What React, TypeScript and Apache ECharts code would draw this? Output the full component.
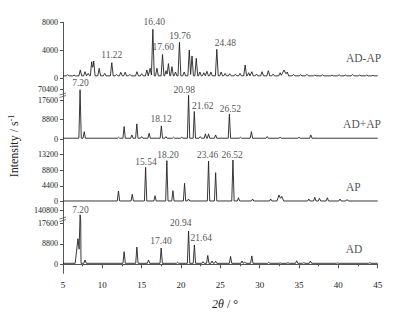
import React, { useEffect, useRef } from 'react';
import * as echarts from 'echarts';

// ---- data (2θ in degrees, intensity in counts/s) ----
const X_MIN = 5;
const X_MAX = 45;
const X_INTERVAL = 5;

const SAMPLES = ['AD-AP', 'AD+AP', 'AP', 'AD'];

// peaks: [2θ, intensity, half-width(optional)]
const AD_AP_BASE = 350;
const AD_AP_PEAKS = [
  [5.6, 520], [6.4, 460], [7.2, 1190], [7.8, 940], [8.2, 700], [8.65, 2370], [8.9, 2470],
  [9.6, 1430], [10.3, 700], [11.2, 2230], [11.8, 560], [12.35, 860], [12.9, 860], [13.5, 560],
  [14.4, 940], [15.0, 650], [15.66, 1190], [16.08, 1430], [16.42, 7000], [16.94, 1430],
  [17.65, 3400], [18.1, 1100], [18.4, 2100], [18.85, 1660], [19.3, 900], [19.8, 5140],
  [20.4, 900], [21.05, 4040], [21.4, 3190], [21.94, 2860], [22.4, 900], [22.9, 800],
  [23.3, 1000], [23.8, 900], [24.55, 4140], [25.1, 900], [25.6, 700], [26.2, 650], [26.9, 600],
  [27.5, 700], [28.15, 1900], [28.6, 800], [29.0, 940], [29.6, 600], [30.3, 940], [31.1, 1090],
  [31.7, 600], [32.6, 800], [33.1, 1190, 0.35], [33.5, 900], [34.3, 560], [35.2, 500],
  [36.0, 560], [37.0, 460], [38.0, 500], [39.2, 460], [40.1, 500], [40.9, 460], [41.8, 560],
  [42.7, 460], [43.6, 460], [44.4, 420],
];

const AD_PLUS_AP_BASE = 450;
const AD_PLUS_AP_PEAKS = [
  [7.17, 63800], [7.7, 3400], [12.05, 900], [12.77, 5700], [13.75, 1940], [14.38, 6900],
  [15.0, 1170], [15.95, 2700], [17.5, 6000], [18.08, 1170], [19.05, 900], [20.1, 900],
  [20.96, 19700], [21.69, 12450], [22.45, 1170], [23.1, 2400], [23.5, 2400], [24.4, 1940],
  [26.15, 11280], [27.55, 900], [28.95, 3430], [30.95, 1170], [32.6, 900], [35.0, 900],
  [36.5, 1940],
];

const AP_BASE = 200;
const AP_PEAKS = [
  [12.05, 2980], [13.8, 2060], [15.5, 9580], [16.7, 1670], [18.2, 11420], [18.97, 3060],
  [20.45, 5120], [20.96, 750], [23.5, 11330], [24.4, 8080], [26.6, 11610], [27.3, 1100],
  [29.1, 750], [31.4, 750], [32.45, 1870, 0.25], [32.8, 1500, 0.25], [36.25, 750], [37.0, 1220],
  [37.6, 950], [38.6, 1100], [40.2, 750], [41.1, 600],
];

const AD_BASE = 430;
const AD_PEAKS = [
  [6.9, 11000, 0.35], [7.17, 80000, 0.12], [7.8, 1850], [12.77, 5400], [14.39, 7400],
  [15.87, 1850], [17.48, 7000], [19.56, 860], [20.96, 14290], [21.7, 8280], [22.8, 1120],
  [23.4, 3800], [23.95, 1400], [24.4, 1290], [26.3, 3400], [27.75, 1420], [28.1, 1000],
  [29.0, 3600], [31.15, 860], [32.6, 560], [33.6, 700], [34.7, 1550], [35.6, 700],
  [36.45, 1420], [39.9, 600], [44.0, 700],
];

// y tick labels per panel
const Y_TICKS_1 = [0, 4000, 8000];
const Y_TICKS_2 = [0, 8800, 17600, 70400];
const Y_TICKS_3 = [0, 4400, 8800, 13200];
const Y_TICKS_4 = [0, 8800, 17600, 140800];

// peak annotations: [text, 2θ, y position on the panel's (display) axis]
const LABELS_1 = [['11.22', 11.2, 3330], ['16.40', 16.6, 8090], ['17.60', 17.74, 4515], ['19.76', 19.87, 6045], ['24.48', 25.64, 5000], ['AD-AP', 43.2, 2860]];
const LABELS_2 = [['7.20', 7.23, 25250], ['20.98', 20.41, 22230], ['21.62', 22.77, 15020], ['26.52', 26.27, 13530], ['18.12', 17.48, 9020], ['AD+AP', 43.0, 6900]];
const LABELS_3 = [['15.54', 15.55, 10970], ['18.20', 18.35, 13010], ['23.46', 23.38, 13010], ['26.52', 26.49, 13010], ['AP', 41.9, 4180]];
const LABELS_4 = [['7.20', 7.23, 23300], ['17.40', 17.46, 10120], ['20.94', 19.97, 17590], ['21.64', 22.58, 11150], ['AD', 42.0, 6435]];

const FONT = "'Liberation Serif', 'Times New Roman', serif";
const INK = '#222222';

type Peak = number[];

function buildTrace(base: number, peaks: Peak[], hw: number, tr: (v: number) => number) {
  const xs: number[] = [X_MIN, X_MAX];
  peaks.forEach((p) => {
    const w = p[2] ?? hw;
    xs.push(p[0] - w, p[0], p[0] + w);
  });
  xs.sort((a, b) => a - b);
  return xs.map((x) => {
    let v = base;
    peaks.forEach((p) => {
      const w = p[2] ?? hw;
      const d = Math.abs(x - p[0]);
      if (d < w) v = Math.max(v, base + (p[1] - base) * (1 - d / w));
    });
    return [x, tr(v)];
  });
}

function makeBreak(breakAt: number, topRaw: number, topDisp: number) {
  const k = (topDisp - breakAt) / (topRaw - breakAt);
  return (v: number) => (v <= breakAt ? v : breakAt + (v - breakAt) * k);
}

const identity = (v: number) => v;

export default function App() {
  const ref = useRef<HTMLDivElement>(null);

  useEffect(() => {
    document.body.style.margin = '0';
    if (!ref.current) return;
    const chart = echarts.init(ref.current, undefined, { renderer: 'svg' });

    const tr2 = makeBreak(19800, 70400, 22560);
    const tr4 = makeBreak(19220, 140800, 23300);

    const panels = [
      { top: 22.3, height: 66.7, min: -1529, max: 8000, ticks: Y_TICKS_1, tr: identity, base: AD_AP_BASE, peaks: AD_AP_PEAKS, hw: 0.18, labels: LABELS_1 },
      { top: 89, height: 65.3, min: -6765, max: 22560, ticks: Y_TICKS_2, tr: tr2, base: AD_PLUS_AP_BASE, peaks: AD_PLUS_AP_PEAKS, hw: 0.15, labels: LABELS_2 },
      { top: 154.3, height: 55.7, min: -2312, max: 13200, ticks: Y_TICKS_3, tr: identity, base: AP_BASE, peaks: AP_PEAKS, hw: 0.15, labels: LABELS_3 },
      { top: 210, height: 63.3, min: -3861, max: 23300, ticks: Y_TICKS_4, tr: tr4, base: AD_BASE, peaks: AD_PEAKS, hw: 0.15, labels: LABELS_4 },
    ];

    const grid = panels.map((p) => ({ left: 63, right: 22.3, top: p.top, height: p.height }));

    const xAxis = panels.map((p, i) => ({
      type: 'value',
      gridIndex: i,
      min: X_MIN,
      max: X_MAX,
      interval: X_INTERVAL,
      show: i === 3,
      axisLine: { show: true, lineStyle: { color: '#555', width: 1 } },
      axisTick: { show: true, length: 4, lineStyle: { color: '#555' } },
      minorTick: { show: true, splitNumber: 2, length: 2, lineStyle: { color: '#555' } },
      axisLabel: { fontSize: 9, color: INK, fontFamily: FONT, margin: 7 },
      splitLine: { show: false },
    }));

    const yAxis = panels.map((p, i) => {
      const disp = p.ticks.map((t) => p.tr(t));
      return {
        type: 'value',
        gridIndex: i,
        min: p.min,
        max: p.max,
        axisLine: { show: true, lineStyle: { color: '#555', width: 1 } },
        axisTick: { show: true, length: 3, customValues: disp, lineStyle: { color: '#555' } },
        axisLabel: {
          customValues: disp,
          fontSize: 8,
          color: INK,
          fontFamily: FONT,
          margin: 5,
          formatter: (v: number) => {
            const idx = disp.findIndex((d) => Math.abs(d - v) < 1);
            return idx >= 0 ? `{t|${p.ticks[idx]}}` : '';
          },
          rich: { t: { color: INK, fontSize: 8, fontFamily: FONT } },
        },
        splitLine: { show: false },
      };
    });

    const series: any[] = [];
    panels.forEach((p, i) => {
      series.push({
        name: SAMPLES[i],
        type: 'line',
        xAxisIndex: i,
        yAxisIndex: i,
        showSymbol: false,
        symbol: 'none',
        lineStyle: { color: INK, width: 0.9 },
        data: buildTrace(p.base, p.peaks as Peak[], p.hw, p.tr),
      });
      series.push({
        type: 'scatter',
        xAxisIndex: i,
        yAxisIndex: i,
        clip: false,
        symbolSize: 1,
        itemStyle: { color: 'rgba(0,0,0,0)' },
        silent: true,
        label: {
          show: true,
          position: 'inside',
          formatter: '{b}',
          color: INK,
          fontFamily: FONT,
          fontSize: 9.5,
        },
        data: (p.labels as any[]).map((l) => ({
          name: l[0],
          value: [l[1], l[2]],
          label: SAMPLES.includes(l[0]) ? { fontSize: 11.5 } : undefined,
        })),
      });
    });

    const breakMark = (y: number) => ({
      type: 'group',
      children: [
        { type: 'rect', shape: { x: 60, y: y - 1.5, width: 6, height: 3 }, style: { fill: '#fff' } },
        { type: 'line', shape: { x1: 59.5, y1: y - 0.5, x2: 66, y2: y - 2.5 }, style: { stroke: '#555', lineWidth: 0.8 } },
        { type: 'line', shape: { x1: 59.5, y1: y + 2, x2: 66, y2: y }, style: { stroke: '#555', lineWidth: 0.8 } },
      ],
    });

    chart.setOption({
      animation: false,
      backgroundColor: '#fff',
      textStyle: { color: INK, fontFamily: FONT },
      grid,
      xAxis,
      yAxis,
      series,
      graphic: [
        breakMark(95.5),
        breakMark(219.5),
        {
          type: 'text',
          x: 14,
          y: 146,
          rotation: Math.PI / 2,
          style: {
            text: '{a|Intensity / s}{b|-1}',
            align: 'center',
            verticalAlign: 'middle',
            fill: INK,
            rich: {
              a: { fontSize: 12, fontFamily: FONT, fill: INK },
              b: { fontSize: 8, fontFamily: FONT, fill: INK, padding: [0, 0, 6, 0] },
            },
          },
        },
        {
          type: 'text',
          x: 225,
          y: 304,
          style: {
            text: '{i|2θ} / °',
            align: 'center',
            verticalAlign: 'middle',
            fill: INK,
            font: `12px ${FONT}`,
            rich: {
              i: { fontSize: 12, fontFamily: FONT, fontStyle: 'italic', fill: INK },
            },
          },
        },
      ],
    });

    return () => chart.dispose();
  }, []);

  return <div ref={ref} style={{ width: 400, height: 315 }} />;
}
